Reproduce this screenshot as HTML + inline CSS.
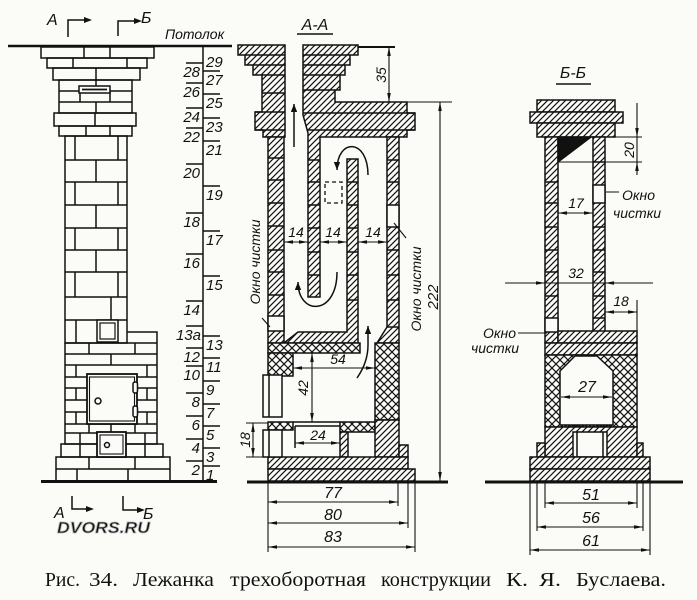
<!DOCTYPE html>
<html><head><meta charset="utf-8"><style>
html,body{margin:0;padding:0;background:#fbfbf8;}
svg{display:block;}
text{font-family:"Liberation Sans",sans-serif;font-style:italic;fill:#111;}
</style></head><body>
<svg width="697" height="600" viewBox="0 0 697 600" xmlns="http://www.w3.org/2000/svg">
<defs>
<pattern id="h" patternUnits="userSpaceOnUse" width="6" height="6">
<rect width="6" height="6" fill="#fbfbf8"/><path d="M0,6L6,0M-1,1L1,-1M5,7L7,5" stroke="#111" stroke-width="1.2"/></pattern>
<pattern id="x" patternUnits="userSpaceOnUse" width="8" height="8">
<rect width="8" height="8" fill="#fbfbf8"/><path d="M0,8L8,0M-1,1L1,-1M7,9L9,7M0,0L8,8M-1,7L1,9M7,-1L9,1" stroke="#111" stroke-width="1.2"/></pattern>
<marker id="ar" viewBox="0 0 10 4" refX="10" refY="2" markerWidth="9" markerHeight="3.6" markerUnits="userSpaceOnUse" orient="auto-start-reverse"><path d="M0,0L10,2L0,4z" fill="#111"/></marker>
<marker id="fa" viewBox="0 0 10 8" refX="10" refY="4" markerWidth="8" markerHeight="6.4" markerUnits="userSpaceOnUse" orient="auto"><path d="M0,0L10,4L0,8z" fill="#111"/></marker>
</defs>
<rect width="697" height="600" fill="#fbfbf8"/>

<!-- ================= ELEVATION ================= -->
<g stroke="#111" stroke-width="1.5" fill="none">
<line x1="8" y1="46" x2="232" y2="46" stroke-width="2.5"/>
<rect x="41" y="47" width="113" height="11"/>
<rect x="47" y="58" width="100" height="10"/>
<rect x="53" y="68" width="87" height="12"/>
<rect x="59" y="80" width="73" height="33"/>
<rect x="54" y="113" width="82" height="13"/>
<rect x="59" y="126" width="73" height="10"/>
<path d="M59,91H132M59,102H132"/>
<path d="M84,47V58M110,47V58M73,58V68M127,58V68M96,68V80M96,80V86M80,91V102M110,91V102M96,102V113M95,113V126M86,126V136M110,126V136"/>
<rect x="79" y="86" width="31" height="7" fill="#fbfbf8"/>
<line x1="82" y1="89.5" x2="107" y2="89.5" stroke-width="1.8"/>
<rect x="65" y="136" width="62" height="207"/>
<path d="M65,160H127M65,182H127M65,205H127M65,228H127M65,250H127M65,272H127M65,297H127M65,320H127"/>
<path d="M75,136V160M118,136V160M96,160V182M75,182V205M118,182V205M96,205V228M75,228V250M118,228V250M96,250V272M75,272V297M118,272V297M111,297V320M76,320V343"/>
<path d="M127,332H157V444H65V343"/>
<path d="M65,343H157M65,354H157M65,365H157M65,377H87M137,377H157M65,388H87M137,388H157M65,400H87M137,400H157M65,412H87M137,412H157M65,424H157M65,433H97M126,433H157"/>
<path d="M89,343V354M135,343V354M111,354V365M76,365V377M147,365V377M76,388V400M147,388V400M76,412V424M147,412V424M89,424V433M111,424V433M135,424V433M80,433V444M145,433V444"/>
<rect x="61" y="444" width="102" height="13"/>
<path d="M80,444V457M145,444V457"/>
<rect x="56" y="457" width="114" height="24"/>
<path d="M56,469H170M89,457V469M135,457V469M77,469V481M128,469V481"/>
<line x1="41" y1="481.5" x2="217" y2="481.5" stroke-width="3"/>
<rect x="97" y="320" width="21" height="22" fill="#fbfbf8"/>
<rect x="100" y="323" width="15" height="16" stroke-width="1.2"/>
<rect x="87" y="374" width="50" height="50" fill="#fbfbf8" stroke-width="1.8"/>
<rect x="89.5" y="377" width="45" height="44" stroke-width="1.1"/>
<circle cx="98" cy="401" r="3"/>
<rect x="133" y="382" width="4.5" height="11" rx="2" fill="#fbfbf8"/>
<rect x="133" y="406" width="4.5" height="11" rx="2" fill="#fbfbf8"/>
<rect x="97" y="432" width="29" height="25" fill="#fbfbf8" stroke-width="1.8"/>
<rect x="100" y="435" width="23" height="19" stroke-width="1.1"/>
<circle cx="107" cy="445" r="2.5"/>
<line x1="203" y1="46" x2="203" y2="481"/>
<path d="M186,63H203M186,83H203M186,108H203M186,128H203M186,164H203M186,213H203M186,254H203M186,301H203M186,326H203M186,348H203M186,366H203M186,393H203M186,416H203M186,439H203M186,461H203"/>
<path d="M203,71H220M203,94H220M203,118H220M203,141H220M203,186H220M203,231H220M203,276H220M203,336H220M203,358H220M203,381H220M203,404H220M203,426H220M203,448H220M203,466H220"/>
<path d="M68,37V20H84"/><path d="M118,36V21H134"/>
<path d="M72,496V509H86"/><path d="M123,496V510H137"/>
</g>
<g fill="#111">
<path d="M84,17L92,20L84,23z"/><path d="M134,18L142,21L134,24z"/>
<path d="M86,506L94,509L86,512z"/><path d="M137,507L145,510L137,513z"/>
</g>
<g font-size="16">
<text x="47" y="25">А</text><text x="141" y="23">Б</text>
<text x="54" y="518">А</text><text x="143" y="519">Б</text>
</g>
<text x="165" y="39" font-size="14">Потолок</text>
<g font-size="15" text-anchor="end">
<text x="200" y="77">28</text><text x="200" y="97">26</text><text x="200" y="122">24</text><text x="200" y="142">22</text>
<text x="200" y="178">20</text><text x="200" y="227">18</text><text x="200" y="268">16</text><text x="200" y="315">14</text>
<text x="201" y="340">13a</text><text x="200" y="362">12</text><text x="200" y="380">10</text><text x="200" y="407">8</text>
<text x="200" y="430">6</text><text x="200" y="453">4</text><text x="200" y="475">2</text>
</g>
<g font-size="15">
<text x="206" y="67">29</text><text x="206" y="85">27</text><text x="206" y="108">25</text><text x="206" y="132">23</text>
<text x="206" y="155">21</text><text x="206" y="200">19</text><text x="206" y="245">17</text><text x="206" y="290">15</text>
<text x="206" y="350">13</text><text x="206" y="372">11</text><text x="206" y="395">9</text><text x="206" y="418">7</text>
<text x="206" y="440">5</text><text x="206" y="462">3</text><text x="206" y="480">1</text>
</g>
<text x="57" y="533" font-size="16" font-weight="bold" fill="#f0f0ee" stroke="#b4b4b4" stroke-width="0.8" textLength="93" lengthAdjust="spacingAndGlyphs">DVORS.RU</text>

<!-- ================= SECTION A-A ================= -->
<g stroke="#111" stroke-width="1.5">
<path d="M238,45H285V137H263V130H255V112H262V75H253V65H245V55H238Z" fill="url(#h)"/>
<path d="M245,55H285M253,65H285M262,75H285M262,93H285M255,112H285M255,130H285" fill="none"/>
<rect x="268" y="137" width="16" height="206" fill="url(#h)"/>
<path d="M268,158H284M268,180H284M268,203H284M268,226H284M268,250H284M268,272H284M268,295H284" fill="none"/>
<rect x="268" y="316" width="16" height="15" fill="#fbfbf8"/>
<path d="M303,45H358V55H350V65H345V75H340V90H335V102H407V113H415V130H407V137H320V297H308V133L303,115Z" fill="url(#h)"/>
<path d="M303,55H350M303,65H345M303,75H340M303,90H335M303,113H415M307,130H415M308,160H320M308,182H320M308,205H320M308,228H320M308,252H320M308,275H320" fill="none"/>
<path d="M387,137H399V343H377L387,327Z" fill="url(#h)"/>
<path d="M387,160H399M387,182H399M387,250H399M387,275H399M387,300H399M387,327H399" fill="none"/>
<rect x="387" y="205" width="12" height="22" fill="#fbfbf8"/>
<path d="M347,159H358V343H284L298,332H347Z" fill="url(#h)"/>
<path d="M347,182H358M347,205H358M347,228H358M347,252H358M347,275H358M347,300H358" fill="none"/>
<rect x="268" y="343" width="92" height="10" fill="url(#x)"/>
<rect x="268" y="353" width="25" height="23" fill="url(#x)"/>
<rect x="375" y="343" width="24" height="77" fill="url(#x)"/>
<rect x="268" y="422" width="25" height="8" fill="url(#x)"/>
<rect x="340" y="422" width="35" height="10" fill="url(#x)"/>
<rect x="375" y="420" width="24" height="37" fill="url(#h)"/>
<rect x="399" y="445" width="9" height="12" fill="url(#h)"/>
<rect x="340" y="432" width="8" height="25" fill="url(#h)"/>
<rect x="268" y="457" width="140" height="12" fill="url(#h)"/>
<rect x="268" y="469" width="147" height="12" fill="url(#h)"/>
<path d="M293,422H340M295,426H340M295,426V448" fill="none"/>
<rect x="263" y="375" width="19" height="42" fill="#fbfbf8"/>
<line x1="269" y1="375" x2="269" y2="417"/>
<rect x="263" y="430" width="19" height="27" fill="#fbfbf8"/>
<line x1="269" y1="430" x2="269" y2="457"/>
<line x1="247" y1="482" x2="448" y2="482" stroke-width="3"/>
<rect x="325" y="182" width="17" height="21" fill="none" stroke-dasharray="4,3" stroke-width="1.3"/>
</g>
<g stroke="#111" stroke-width="1.1" fill="none">
<path d="M358,47H395" stroke-width="2"/>
<path d="M389,47V102" marker-start="url(#ar)" marker-end="url(#ar)"/>
<path d="M407,102H452"/>
<path d="M440,102V481" marker-start="url(#ar)" marker-end="url(#ar)"/>
<path d="M284,242H308" marker-start="url(#ar)" marker-end="url(#ar)"/>
<path d="M320,242H347" marker-start="url(#ar)" marker-end="url(#ar)"/>
<path d="M358,242H387" marker-start="url(#ar)" marker-end="url(#ar)"/>
<path d="M293,368H375" marker-start="url(#ar)" marker-end="url(#ar)"/>
<path d="M312,353V422" marker-start="url(#ar)" marker-end="url(#ar)"/>
<path d="M295,443H340" marker-start="url(#ar)" marker-end="url(#ar)"/>
<path d="M253,423V457" marker-start="url(#ar)" marker-end="url(#ar)"/>
<path d="M246,423H268M246,457H268"/>
<path d="M268,483V552M398,483V506M408,483V528M415,483V552"/>
<path d="M268,502H398" marker-start="url(#ar)" marker-end="url(#ar)"/>
<path d="M268,523H408" marker-start="url(#ar)" marker-end="url(#ar)"/>
<path d="M268,547H415" marker-start="url(#ar)" marker-end="url(#ar)"/>
<path d="M262,318L270,327M394,223L406,238"/>
<path d="M294,147V104" stroke-width="1.5" marker-end="url(#fa)"/>
<path d="M368,175C368,138 337,138 337,170" stroke-width="1.5" marker-end="url(#fa)"/>
<path d="M337,272C337,316 298,316 298,282" stroke-width="1.5" marker-end="url(#fa)"/>
<path d="M357,378C364,368 368,358 368,345V326" stroke-width="1.5" marker-end="url(#fa)"/>
</g>
<text x="315" y="30" font-size="16" text-anchor="middle">А-А</text>
<line x1="297" y1="34" x2="333" y2="34" stroke="#111" stroke-width="1.4"/>
<g font-size="14" text-anchor="middle">
<text x="296" y="237">14</text><text x="333" y="237">14</text><text x="373" y="237">14</text>
<text x="338" y="364">54</text><text x="318" y="440">24</text>
<text transform="translate(308,388) rotate(-90)">42</text>
<text transform="translate(250,440) rotate(-90)">18</text>
<text transform="translate(386,75) rotate(-90)">35</text>
<text transform="translate(438,297) rotate(-90)" font-size="15">222</text>
<text transform="translate(260,262) rotate(-90)">Окно чистки</text>
<text transform="translate(421,289) rotate(-90)">Окно чистки</text>
</g>
<g font-size="16" text-anchor="middle">
<text x="333" y="498">77</text><text x="333" y="520">80</text><text x="333" y="542">83</text>
</g>

<!-- ================= SECTION Б-Б ================= -->
<g stroke="#111" stroke-width="1.5">
<rect x="537" y="100" width="78" height="12" fill="url(#h)"/>
<rect x="530" y="112" width="93" height="11" fill="url(#h)"/>
<rect x="537" y="123" width="78" height="14" fill="url(#h)"/>
<rect x="545" y="137" width="13" height="206" fill="url(#h)"/>
<path d="M545,182H558M545,203H558M545,227H558M545,250H558M545,272H558M545,296H558" fill="none"/>
<rect x="545" y="318" width="13" height="14" fill="#fbfbf8"/>
<rect x="593" y="137" width="12" height="195" fill="url(#h)"/>
<path d="M593,162H605M593,227H605M593,250H605M593,272H605M593,296H605M593,318H605" fill="none"/>
<rect x="593" y="185" width="12" height="18" fill="#fbfbf8"/>
<path d="M558,137H591L558,162Z" fill="#111"/>
<rect x="558" y="331" width="79" height="12" fill="url(#h)"/>
<rect x="545" y="343" width="92" height="12" fill="url(#h)"/>
<rect x="545" y="355" width="92" height="72" fill="url(#x)"/>
<path d="M575,356H597L613,371V425H560V371Z" fill="#fbfbf8"/>
<rect x="545" y="427" width="92" height="30" fill="url(#h)"/>
<rect x="573" y="432" width="34" height="25" fill="#fbfbf8"/>
<path d="M577,432V457M603,432V457" fill="none"/>
<rect x="537" y="443" width="8" height="14" fill="url(#h)"/>
<rect x="637" y="443" width="6" height="14" fill="url(#h)"/>
<rect x="530" y="457" width="120" height="12" fill="url(#h)"/>
<rect x="530" y="469" width="120" height="12" fill="url(#h)"/>
<line x1="561" y1="426" x2="612" y2="426" stroke-width="2.5" stroke-dasharray="2,1.5"/>
<line x1="485" y1="482" x2="683" y2="482" stroke-width="3"/>
</g>
<g stroke="#111" stroke-width="1.1" fill="none">
<path d="M615,137H642M558,162H642M637,137V162"/>
<path d="M637,103V137" marker-end="url(#ar)"/>
<path d="M637,175V162" marker-end="url(#ar)"/>
<path d="M558,213H593" marker-start="url(#ar)" marker-end="url(#ar)"/>
<path d="M545,283H605"/>
<path d="M505,283H545" marker-end="url(#ar)"/>
<path d="M653,283H605" marker-end="url(#ar)"/>
<path d="M605,312H637" marker-start="url(#ar)" marker-end="url(#ar)"/>
<path d="M637,300V333"/>
<path d="M545,483V508M537,483V531M530,483V555M637,483V508M643,483V531M650,483V555"/>
<path d="M545,503H637" marker-start="url(#ar)" marker-end="url(#ar)"/>
<path d="M537,527H643" marker-start="url(#ar)" marker-end="url(#ar)"/>
<path d="M530,550H650" marker-start="url(#ar)" marker-end="url(#ar)"/>
<path d="M606,192H619M518,333H547"/>
</g>
<text x="573" y="78" font-size="16" text-anchor="middle">Б-Б</text>
<line x1="556" y1="84" x2="591" y2="84" stroke="#111" stroke-width="1.4"/>
<g font-size="14" text-anchor="middle">
<text x="576" y="208">17</text><text x="576" y="278">32</text><text x="621" y="306">18</text>
<text x="587" y="392" font-size="16">27</text>
<text transform="translate(634,150) rotate(-90)">20</text>
</g>
<g font-size="14">
<text x="622" y="200">Окно</text><text x="613" y="218">чистки</text>
<text x="483" y="338">Окно</text><text x="471" y="353">чистки</text>
</g>
<g font-size="16" text-anchor="middle">
<text x="591" y="500">51</text><text x="591" y="523">56</text><text x="591" y="546">61</text>
</g>
<line x1="561" y1="397" x2="612" y2="397" stroke="#111" stroke-width="1.1" marker-start="url(#ar)" marker-end="url(#ar)"/>

<!-- caption -->
<g font-size="20" style="font-family:'Liberation Serif',serif;font-style:normal">
<text x="45" y="586" textLength="35" lengthAdjust="spacingAndGlyphs" style="font-style:normal;font-family:'Liberation Serif',serif">Рис.</text>
<text x="89" y="586" textLength="29" lengthAdjust="spacingAndGlyphs" style="font-style:normal;font-family:'Liberation Serif',serif">34.</text>
<text x="133" y="586" textLength="81" lengthAdjust="spacingAndGlyphs" style="font-style:normal;font-family:'Liberation Serif',serif">Лежанка</text>
<text x="230" y="586" textLength="136" lengthAdjust="spacingAndGlyphs" style="font-style:normal;font-family:'Liberation Serif',serif">трехоборотная</text>
<text x="381" y="586" textLength="110" lengthAdjust="spacingAndGlyphs" style="font-style:normal;font-family:'Liberation Serif',serif">конструкции</text>
<text x="506" y="586" textLength="22" lengthAdjust="spacingAndGlyphs" style="font-style:normal;font-family:'Liberation Serif',serif">К.</text>
<text x="539" y="586" textLength="22" lengthAdjust="spacingAndGlyphs" style="font-style:normal;font-family:'Liberation Serif',serif">Я.</text>
<text x="576" y="586" textLength="90" lengthAdjust="spacingAndGlyphs" style="font-style:normal;font-family:'Liberation Serif',serif">Буслаева.</text>
</g>
</svg>
</body></html>
